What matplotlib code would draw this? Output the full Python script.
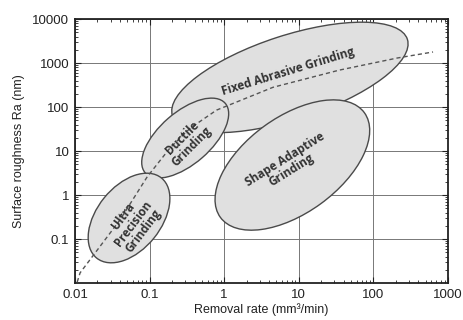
import numpy as np
import matplotlib; matplotlib.use('Agg')
import matplotlib.pyplot as plt
from matplotlib.patches import Ellipse
from matplotlib.transforms import ScaledTranslation

plt.rcParams.update({'font.family': ['Liberation Sans', 'DejaVu Sans'], 'font.size': 9})

# ---- data ----
regions = ['Fixed Abrasive Grinding', 'Shape Adaptive\nGrinding',
           'Ductile\nGrinding', 'Ultra\nPrecision\nGrinding']
reg_x = [7.6, 8.2, 0.30, 0.053]      # ellipse centres, removal rate (mm3/min)
reg_y = [470, 4.8, 19.7, 0.30]       # ellipse centres, Ra (nm)
trend_x = [0.0107, 0.0117, 0.040, 0.093, 0.19, 0.35, 0.79, 4.5, 35, 210, 630]
trend_y = [0.0105, 0.017, 0.27, 2.6, 12, 33, 85, 280, 690, 1300, 1780]
xticks = [0.01, 0.1, 1, 10, 100, 1000]
xlabels = ['0.01', '0.1', '1', '10', '100', '1000']
yticks = [0.1, 1, 10, 100, 1000, 10000]
ylabels = ['0.1', '1', '10', '100', '1000', '10000']

# ellipse shape on screen (inches) and rotation
ell_w = [2.47, 1.78, 1.06, 1.03]
ell_h = [0.84, 0.96, 0.52, 0.64]
ell_ang = [18, 36, 41, 51]
txt_rot = [17, 32, 45, 53]
txt_off = [(-1.5, 4), (-3, 0), (1, -3), (3, -4)]   # points

fig = plt.figure(figsize=(4.63, 3.2), dpi=100)
ax = fig.add_axes([75/463, 37/320, 373/463, 264/320])
ax.set_xscale('log'); ax.set_yscale('log')
ax.set_xlim(0.01, 1000); ax.set_ylim(0.01, 10000)

for i in range(len(regions)):
    tr = fig.dpi_scale_trans + ScaledTranslation(reg_x[i], reg_y[i], ax.transData)
    ax.add_patch(Ellipse((0, 0), ell_w[i], ell_h[i], angle=ell_ang[i], transform=tr,
                         facecolor='#e0e0e0', edgecolor='#4a4a4a', lw=1.0, zorder=2 + i * 0.1))
    ax.annotate(regions[i], (reg_x[i], reg_y[i]), xytext=txt_off[i], textcoords='offset points',
                ha='center', va='center', rotation=txt_rot[i], rotation_mode='anchor',
                fontsize=8.5, family=['Open Sans', 'DejaVu Sans'], fontweight='bold',
                color='#333333', linespacing=1.0, zorder=4)

ax.plot(trend_x, trend_y, color='#555555', lw=1.0, dashes=(3, 2.2), zorder=3)

ax.set_xticks(xticks, xlabels)
ax.set_yticks(yticks, ylabels)
ax.grid(True, which='major', color='#777777', lw=0.7, zorder=0)
ax.set_axisbelow(True)
ax.tick_params(which='both', direction='in', top=True, right=True, color='#222222')
ax.tick_params(which='major', length=4, width=0.8, labelsize=9.5, pad=4, labelcolor='#222222')
ax.tick_params(which='minor', length=2.2, width=0.6)
for sp in ax.spines.values():
    sp.set_linewidth(1.3); sp.set_color('#222222')

ax.set_xlabel('Removal rate (mm\u00b3/min)', fontsize=9, labelpad=2, color='#222222')
ax.set_ylabel('Surface roughness Ra (nm)', fontsize=9, labelpad=5, color='#222222')

fig.savefig('out.png', dpi=100)
